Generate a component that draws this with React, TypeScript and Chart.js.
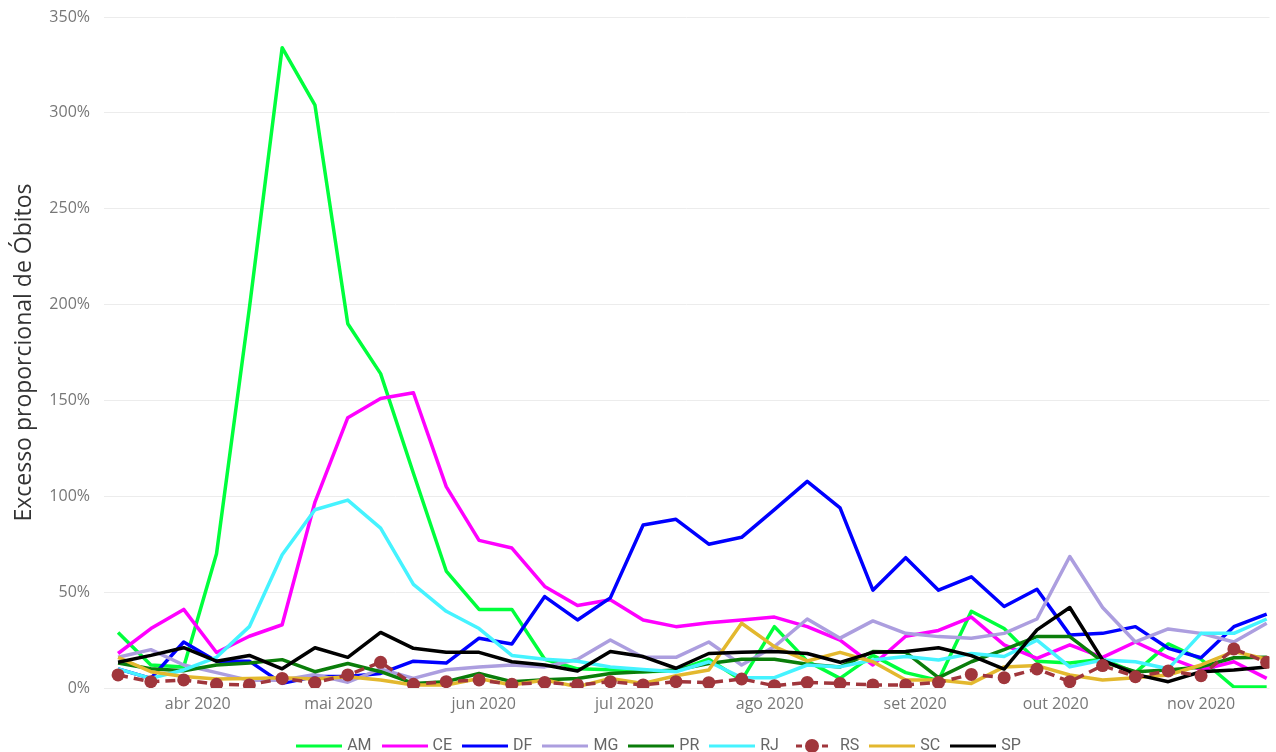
import React, { useEffect, useRef } from "react";
import { Chart, registerables } from "chart.js";

Chart.register(...registerables);

// Weekly reference dates (categories)
const weeks = [
  "2020-03-15", "2020-03-22", "2020-03-29", "2020-04-05", "2020-04-12", "2020-04-19",
  "2020-04-26", "2020-05-03", "2020-05-10", "2020-05-17", "2020-05-24", "2020-05-31",
  "2020-06-07", "2020-06-14", "2020-06-21", "2020-06-28", "2020-07-05", "2020-07-12",
  "2020-07-19", "2020-07-26", "2020-08-02", "2020-08-09", "2020-08-16", "2020-08-23",
  "2020-08-30", "2020-09-06", "2020-09-13", "2020-09-20", "2020-09-27", "2020-10-04",
  "2020-10-11", "2020-10-18", "2020-10-25", "2020-11-01", "2020-11-08", "2020-11-15",
];

// Series values (% excess deaths)
const AM = [29, 12, 11, 70, 198, 334, 304, 190, 164, 112, 61, 41, 41, 15, 10, 9.5, 8.5, 9, 15, 4, 32, 14, 5, 17, 8, 4, 40, 31, 14, 13, 15, 8, 23, 15, 0.5, 0.5];
const CE = [18, 31, 41, 18.5, 27, 33, 97, 141, 151, 154, 105, 77, 73, 53, 43, 46, 35.5, 32, 34, 35.5, 37, 32, 25, 12, 27, 30, 37, 22.5, 15.5, 22.5, 16, 24, 16, 9.4, 13.7, 5];
const DF = [10, 5, 24, 14, 14, 2.4, 6, 6, 7.6, 14, 13, 26, 23, 47.7, 35.5, 47, 85, 88, 75, 78.6, 93, 107.8, 94, 51, 68, 51, 58, 42.5, 51.5, 27.7, 28.5, 32, 20.7, 15.8, 32, 38.5];
const MG = [16, 20, 12, 8, 4, 4, 7, 3, 10, 5, 9.5, 11, 12, 11, 15, 25, 16, 16, 24, 12, 21.6, 36, 26, 35, 28.5, 26.8, 26, 28.5, 36, 68.6, 42, 24, 30.8, 28.5, 24, 33.8];
const PR = [13, 10, 9, 12, 13, 14.8, 8.5, 12.8, 8.5, 2.4, 3.3, 7.6, 3.3, 4.3, 5, 7.6, 8.5, 9.4, 12.8, 15, 15, 12.4, 11, 19, 18.6, 5.4, 13.7, 20, 26.8, 26.8, 13.7, 8.5, 9.4, 11, 15.8, 16];
const RJ = [10, 5, 9.4, 16, 32, 69.5, 93, 98, 83.4, 54, 40, 31, 17, 15, 14, 11, 9.7, 8.5, 13.7, 5.4, 5.4, 12, 11, 14.6, 16.4, 14.6, 18, 16.4, 25, 11, 14.6, 13.7, 10, 28.5, 28.5, 36];
const RS = [6.8, 3.3, 4.2, 1.9, 1.6, 5, 2.8, 6.8, 13.4, 1.9, 3.3, 4.2, 1.9, 2.9, 1.6, 3.3, 1.6, 3.3, 2.8, 4.7, 1.2, 2.9, 2.4, 1.6, 1.6, 2.9, 7.1, 5.4, 9.9, 3.3, 11.7, 5.9, 8.9, 6.4, 20.4, 13.4];
const SC = [16, 8.5, 6, 4.7, 5, 5.4, 4.7, 5.9, 4.2, 1.6, 1.6, 5, 1.6, 4.2, 0.7, 5, 2.4, 6.4, 9.4, 33.8, 21.6, 14.1, 18.6, 13.7, 4.2, 4.2, 2.4, 11, 11.7, 6.8, 4.2, 5.4, 6.8, 12, 19, 15];
const SP = [13.4, 17, 21, 14, 17, 10, 21, 16, 29, 20.7, 18.6, 18.6, 13.7, 12, 8.9, 19, 16.4, 10.3, 18, 18.6, 19, 18, 13.4, 18.6, 19, 21, 16.9, 9.9, 30.3, 42, 14.6, 7.1, 3.3, 8.5, 9.4, 11];

const seriesNames = ["AM", "CE", "DF", "MG", "PR", "RJ", "RS", "SC", "SP"];
const seriesValues = [AM, CE, DF, MG, PR, RJ, RS, SC, SP];
const seriesColors = ["#00FF3C", "#FF00FF", "#0000FF", "#AC9EDF", "#0A7D0A", "#45F3FF", "#A0363C", "#E3B82E", "#000000"];

// X tick labels (month starts)
const monthTickDates = ["2020-04-01", "2020-05-01", "2020-06-01", "2020-07-01", "2020-08-01", "2020-09-01", "2020-10-01", "2020-11-01"];
const monthTickLabels = ["abr 2020", "mai 2020", "jun 2020", "jul 2020", "ago 2020", "set 2020", "out 2020", "nov 2020"];

// Y ticks
const yTickValues = [0, 50, 100, 150, 200, 250, 300, 350];

const yTitle = "Excesso proporcional de Óbitos";

const dayOffset = (d: string) => Math.round((Date.parse(d) - Date.parse(weeks[0])) / 86400000);

function makeLegendImage(color: string, withPoint: boolean) {
  const c = document.createElement("canvas");
  c.width = 46;
  c.height = 16;
  const ctx = c.getContext("2d")!;
  ctx.strokeStyle = color;
  ctx.fillStyle = color;
  ctx.lineWidth = 3;
  ctx.beginPath();
  if (withPoint) {
    ctx.moveTo(7, 8);
    ctx.lineTo(13, 8);
    ctx.moveTo(33, 8);
    ctx.lineTo(39, 8);
    ctx.stroke();
    ctx.beginPath();
    ctx.arc(23, 8, 7, 0, Math.PI * 2);
    ctx.fill();
  } else {
    ctx.moveTo(0, 8);
    ctx.lineTo(46, 8);
    ctx.stroke();
  }
  return c;
}

// shifts the legend block slightly right, as in the reference
const legendShift = {
  id: "legendShift",
  afterLayout(chart: any) {
    if (chart.legend) chart.legend.left += 44;
  },
};

export default function App() {
  const canvasRef = useRef<HTMLCanvasElement | null>(null);

  useEffect(() => {
    if (!canvasRef.current) return;
    const tickFont = { family: "'Segoe UI', 'Open Sans', sans-serif", size: 16 };
    const legendImages = seriesNames.map((n, i) => makeLegendImage(seriesColors[i], n === "RS"));

    const datasets = seriesNames.map((name, i) => {
      const isRS = name === "RS";
      return {
        label: name,
        data: weeks.map((w, j) => ({ x: dayOffset(w), y: seriesValues[i][j] })),
        borderColor: seriesColors[i],
        backgroundColor: seriesColors[i],
        borderWidth: 3.5,
        borderJoinStyle: "round" as const,
        borderDash: isRS ? [10, 6] : [],
        pointRadius: isRS ? 6.5 : 0,
        pointHoverRadius: isRS ? 6.5 : 0,
        pointBackgroundColor: seriesColors[i],
        pointBorderWidth: 0,
        tension: 0,
        fill: false,
        order: isRS ? 0 : seriesNames.length - i,
      };
    });

    const chart = new Chart(canvasRef.current, {
      type: "line",
      data: { datasets },
      plugins: [legendShift],
      options: {
        animation: false,
        responsive: false,
        layout: { padding: { top: 17, left: 0, right: 0, bottom: 0 } },
        plugins: {
          tooltip: { enabled: false },
          legend: {
            position: "bottom",
            labels: {
              usePointStyle: true,
              pointStyleWidth: 40,
              padding: 13,
              color: "#666",
              font: { family: "Roboto, sans-serif", size: 16 },
              generateLabels: (ch: any) =>
                ch.data.datasets.map((ds: any, i: number) => ({
                  text: ds.label,
                  pointStyle: legendImages[i],
                  fillStyle: ds.borderColor,
                  strokeStyle: ds.borderColor,
                  lineWidth: 0,
                  hidden: false,
                  datasetIndex: i,
                  fontColor: "#666",
                })),
            },
          },
        },
        scales: {
          x: {
            type: "linear",
            min: -3,
            max: 245.6,
            grid: { display: false, drawTicks: false },
            border: { display: false },
            afterBuildTicks: (s: any) => {
              s.ticks = monthTickDates.map((d) => ({ value: dayOffset(d) }));
            },
            afterFit: (s: any) => {
              s.height = 37;
              s.paddingLeft = 0;
              s.paddingRight = 0;
            },
            ticks: {
              autoSkip: false,
              maxRotation: 0,
              padding: 7,
              color: "#777",
              font: tickFont,
              callback: (v: any) => {
                const idx = monthTickDates.findIndex((d) => dayOffset(d) === v);
                return idx >= 0 ? monthTickLabels[idx] : "";
              },
            },
          },
          y: {
            min: 0,
            max: 350,
            afterBuildTicks: (s: any) => {
              s.ticks = yTickValues.map((v) => ({ value: v }));
            },
            afterFit: (s: any) => {
              s.width = 104;
              s.paddingTop = 0;
              s.paddingBottom = 0;
            },
            grid: { color: "#ececec", lineWidth: 1, drawTicks: false },
            border: { display: false },
            ticks: {
              padding: 14,
              color: "#777",
              font: tickFont,
              callback: (v: any) => `${v}%`,
            },
            title: {
              display: true,
              text: yTitle,
              color: "#333",
              font: { family: "'Segoe UI', 'Open Sans', sans-serif", size: 23 },
              padding: { top: 11, bottom: 0 },
            },
          },
        },
      },
    });
    return () => chart.destroy();
  }, []);

  return (
    <div style={{ position: "absolute", left: 0, top: 0, width: 1276, height: 752, overflow: "hidden", background: "#fff" }}>
      <canvas ref={canvasRef} width={1276} height={764} style={{ display: "block" }} />
    </div>
  );
}
